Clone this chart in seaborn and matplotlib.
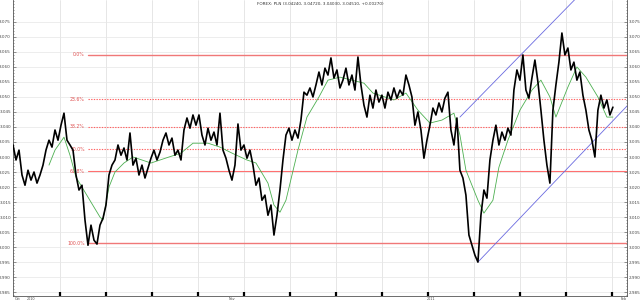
import numpy as np
import pandas as pd
import matplotlib
matplotlib.use("Agg")
import matplotlib.pyplot as plt
import seaborn as sns

# ---- data ----
price = [
    3.0340, 3.0290, 3.0323, 3.0240, 3.0206, 3.0256, 3.0223, 3.0250, 3.0213, 3.0240,
    3.0273, 3.0323, 3.0356, 3.0333, 3.0390, 3.0356, 3.0406, 3.0446, 3.0356, 3.0340,
    3.0323, 3.0240, 3.0190, 3.0206, 3.0090, 3.0006, 3.0073, 3.0023, 3.0010, 3.0073,
    3.0096, 3.0140, 3.0240, 3.0273, 3.0290, 3.0340, 3.0306, 3.0330, 3.0290, 3.0380,
    3.0273, 3.0296, 3.0240, 3.0273, 3.0230, 3.0263, 3.0296, 3.0323, 3.0290, 3.0316,
    3.0356, 3.0380, 3.0340, 3.0363, 3.0306, 3.0323, 3.0290, 3.0390, 3.0430, 3.0396,
    3.0440, 3.0406, 3.0440, 3.0373, 3.0340, 3.0396, 3.0356, 3.0383, 3.0340, 3.0446,
    3.0323, 3.0296, 3.0256, 3.0223, 3.0273, 3.0410, 3.0323, 3.0340, 3.0296, 3.0323,
    3.0273, 3.0206, 3.0230, 3.0156, 3.0173, 3.0106, 3.0140, 3.0040, 3.0106, 3.0190,
    3.0290, 3.0373, 3.0396, 3.0356, 3.0390, 3.0363, 3.0423, 3.0516, 3.0506, 3.0530,
    3.0500, 3.0540, 3.0583, 3.0540, 3.0596, 3.0573, 3.0630, 3.0563, 3.0590, 3.0530,
    3.0556, 3.0596, 3.0540, 3.0573, 3.0523, 3.0633, 3.0540, 3.0473, 3.0433, 3.0506,
    3.0463, 3.0523, 3.0483, 3.0506, 3.0463, 3.0516, 3.0490, 3.0530, 3.0496, 3.0523,
    3.0506, 3.0573, 3.0540, 3.0500, 3.0406, 3.0450, 3.0390, 3.0296, 3.0356, 3.0406,
    3.0463, 3.0440, 3.0480, 3.0450, 3.0496, 3.0516, 3.0390, 3.0340, 3.0430, 3.0256,
    3.0230, 3.0173, 3.0040, 3.0006, 2.9973, 2.9950, 3.0106, 3.0190, 3.0163, 3.0290,
    3.0356, 3.0406, 3.0340, 3.0383, 3.0356, 3.0396, 3.0373, 3.0523, 3.0590, 3.0556,
    3.0640, 3.0523, 3.0496, 3.0563, 3.0623, 3.0550, 3.0456, 3.0356, 3.0273, 3.0213,
    3.0456, 3.0540, 3.0616, 3.0713, 3.0640, 3.0663, 3.0590, 3.0616, 3.0556, 3.0583,
    3.0506, 3.0456, 3.0390, 3.0356, 3.0300, 3.0456, 3.0506, 3.0463, 3.0490, 3.0440,
    3.0466,
]
ma_x = [12, 14, 17, 19, 21, 24, 27, 29, 30, 32, 34, 37, 40, 43, 46, 49, 52, 56, 60, 65,
        69, 73, 78, 81, 85, 87, 89, 91, 95, 98, 102, 105, 109, 113, 117, 120, 127, 131, 135, 139,
        143, 147, 149, 151, 155, 157, 160, 162, 165, 169, 173, 176, 179, 181, 185, 188, 191, 195, 198, 200]
ma_y = [3.0273, 3.0323, 3.0366, 3.0306, 3.0233, 3.0183, 3.0133, 3.0100, 3.0090, 3.0200,
        3.0250, 3.0280, 3.0300, 3.0290, 3.0280, 3.0290, 3.0300, 3.0313, 3.0346, 3.0346,
        3.0333, 3.0313, 3.0290, 3.0280, 3.0213, 3.0140, 3.0116, 3.0156, 3.0323, 3.0433,
        3.0500, 3.0556, 3.0566, 3.0556, 3.0546, 3.0513, 3.0490, 3.0513, 3.0456, 3.0413,
        3.0423, 3.0446, 3.0373, 3.0256, 3.0156, 3.0113, 3.0156, 3.0266, 3.0356, 3.0456,
        3.0523, 3.0556, 3.0500, 3.0433, 3.0533, 3.0600, 3.0566, 3.0500, 3.0433, 3.0433]
fib_high = 3.0640
fib_low = 3.0013
fib_start = 25
fib_levels = [0.0, 23.6, 38.2, 50.0, 61.8, 100.0]
fib_labels = ["0.0%", "23.6%", "38.2%", "50.0%", "61.8%", "100.0%"]
chan_low_x = [155, 205]
chan_low_y = [2.9950, 3.0473]
chan_up_x = [149, 195]
chan_up_y = [3.0433, 3.0903]
y_ticks = [2.985, 2.990, 2.995, 3.000, 3.005, 3.010, 3.015, 3.020, 3.025, 3.030,
           3.035, 3.040, 3.045, 3.050, 3.055, 3.060, 3.065, 3.070, 3.075]
date_labels = ["Oct", "2010", "Nov", "2011", "Feb"]
date_pos = [0.5, 4.5, 72, 138, 202.5]
title = "FOREX: PLN (3.04240, 3.04720, 3.04030, 3.04510, +0.00270)"

df = pd.DataFrame({"idx": np.arange(len(price)), "price": price})
ma = pd.DataFrame({"idx": ma_x, "ma": ma_y})

sns.set_style("white")
plt.rcParams["font.family"] = ["DejaVu Sans"]

fig = plt.figure(figsize=(6.4, 3.02), dpi=100)
ax = fig.add_axes([13 / 640, 6 / 302, 614 / 640, 296 / 302])

# grid
xt = 15.6 + 15.33 * np.arange(13)
for v in xt:
    ax.axvline(v, color="#dcdcdc", lw=0.5, zorder=0)
for v in y_ticks:
    ax.axhline(v, color="#e6e6e6", lw=0.5, zorder=0)

# fibonacci
rng = fib_high - fib_low
for lvl, lab in zip(fib_levels, fib_labels):
    yv = fib_high - lvl / 100.0 * rng
    if lvl in (0.0, 100.0):
        ax.plot([fib_start, 300], [yv, yv], color="#f07878", lw=1.0, zorder=1)
    elif lvl == 61.8:
        ax.plot([fib_start, 300], [yv, yv], color="#ff7070", lw=0.8, zorder=1)
    else:
        ax.plot([fib_start, 300], [yv, yv], color="#ff6060", lw=0.8, ls=(0, (1.2, 1.2)), zorder=1)
    ax.text(fib_start - 1, yv, lab, color="#e05050", fontsize=3.3, ha="right", va="center")

# channel
ax.plot(chan_low_x, chan_low_y, color="#6a6ae0", lw=0.6, zorder=2)
ax.plot(chan_up_x, chan_up_y, color="#6a6ae0", lw=0.6, zorder=2)

sns.lineplot(data=ma, x="idx", y="ma", ax=ax, color="#4caf50", lw=0.6, zorder=3)
sns.lineplot(data=df, x="idx", y="price", ax=ax, color="black", lw=1.2, zorder=4)

ax.set_xlim(0, 204.7)
ax.set_ylim(2.9837, 3.0823)
ax.set_xlabel("")
ax.set_ylabel("")

ax.set_yticks(y_ticks)
ax.set_yticklabels([f"{v:.3f}" for v in y_ticks])
ax.yaxis.set_minor_locator(matplotlib.ticker.MultipleLocator(0.001))
ax.tick_params(axis="y", which="both", labelsize=3, labelleft=True, labelright=True,
               left=True, right=True, direction="in", length=2, width=0.4, pad=1.5, colors="#444444")
ax.tick_params(axis="y", which="minor", length=1)
ax.set_xticks(xt)
ax.set_xticklabels([""] * len(xt))
ax.tick_params(axis="x", direction="in", length=3, width=1.6, color="black", bottom=True)
for s in ["left", "right", "bottom"]:
    ax.spines[s].set_visible(True)
    ax.spines[s].set_color("#555555")
    ax.spines[s].set_linewidth(0.6)
ax.spines["top"].set_visible(False)

# bottom date labels
for xv, lab in zip(date_pos, date_labels):
    ax.text(xv, -0.004, lab, transform=ax.get_xaxis_transform(), fontsize=2.4,
            ha="left", va="top", color="#444444")

fig.text(0.5, 0.995, title, fontsize=3, ha="center", va="top", color="#333333")

fig.savefig("out.png", dpi=100)
